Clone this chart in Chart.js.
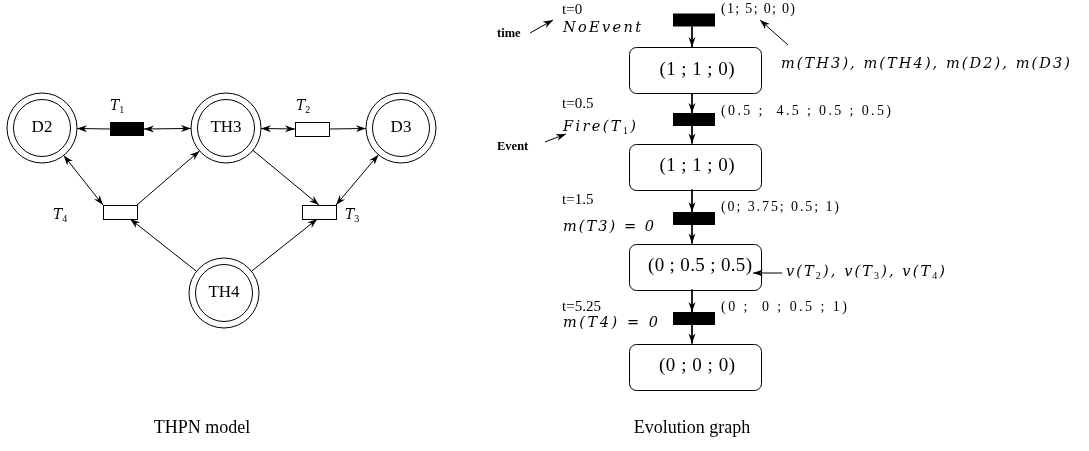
<!DOCTYPE html>
<html>
<head>
<meta charset="utf-8">
<script src="https://cdn.jsdelivr.net/npm/chart.js@4/dist/chart.umd.min.js"></script>
<style>
  html, body { margin: 0; padding: 0; background: #fff; }
  #wrap { width: 1089px; height: 451px; position: relative; }
</style>
</head>
<body>
<div id="wrap"><canvas id="net"></canvas></div>
<script>
// --- THPN model (left) ---
const placeNames = ['D2', 'TH3', 'D3', 'TH4'];
const placeX = [42, 226, 401, 224];
const placeY = [128, 128, 128, 293];

const transNames = ['T_1', 'T_2', 'T_3', 'T_4'];
const transX = [127, 312, 319, 120];
const transY = [129, 129, 212, 212];
const transFilled = [true, false, false, false];

// arcs: transition, place, anchor on the transition box, arrowhead at transition / at place
const arcTrans = ['T_1', 'T_1', 'T_2', 'T_2', 'T_4', 'T_4', 'T_4', 'T_3', 'T_3', 'T_3'];
const arcPlace = ['D2', 'TH3', 'TH3', 'D3', 'D2', 'TH3', 'TH4', 'TH3', 'D3', 'TH4'];
const arcAnchor = [[-1, 0], [1, 0], [-1, 0], [1, 0], [-1, -1], [1, -1], [0.6, 1], [0, -1], [1, -1], [-0.1, 1]];
const arcHeadTrans = [false, true, true, false, true, false, true, true, true, true];
const arcHeadPlace = [true, true, true, true, true, true, false, false, true, false];

// --- Evolution graph (right) ---
const stateText = ['(1 ; 1 ; 0)', '(1 ; 1 ; 0)', '(0 ; 0.5 ; 0.5)', '(0 ; 0 ; 0)'];
const stateY = [70, 166.5, 266.5, 366.5];
const stepY = [20, 119.5, 218.5, 318.5];
const stepTime = ['t=0', 't=0.5', 't=1.5', 't=5.25'];
const stepTimeY = [10, 104, 200, 307];
const stepEvent = ['NoEvent', 'Fire(T_1)', 'm(T3) = 0', 'm(T4) = 0'];
const stepEventY = [28, 127, 227, 323];
const stepMarking = ['(1; 5; 0; 0)', '(0.5 ;  4.5 ; 0.5 ; 0.5)', '(0; 3.75; 0.5; 1)', '(0 ;  0 ; 0.5 ; 1)'];
const stepMarkingY = [9, 111, 207, 307];

// layout
const R_OUT = 35, R_IN = 28.5, T_W = 34, T_H = 14;
const FLOW_X = 692, BAR_X = 694, BAR_W = 42, BAR_H = 13;
const BOX_X = 695, BOX_W = 132, BOX_H = 46;
const TIME_X = 562, MARK_X = 721;
const stateTextX = [697, 697, 700, 697];
const stateTextW = [75, 75, 104, 76];
const stepEventW = [78, 73, 91, 95];
const stepMarkingW = [74, 170, 118, 126];
const FONT = '"Liberation Serif", "Times New Roman", serif';
const MATH = '"DejaVu Serif", serif';

function arcEnds(i) {
  const t = transNames.indexOf(arcTrans[i]);
  const p = placeNames.indexOf(arcPlace[i]);
  const [fx, fy] = arcAnchor[i];
  const ax = transX[t] + fx * T_W / 2, ay = transY[t] + fy * T_H / 2;
  const dx = ax - placeX[p], dy = ay - placeY[p], d = Math.hypot(dx, dy);
  return { ax, ay, bx: placeX[p] + dx / d * R_OUT, by: placeY[p] + dy / d * R_OUT };
}

const lineSet = (pts) => ({
  data: pts, showLine: true, borderColor: '#000', borderWidth: 1,
  pointRadius: 0, clip: false,
});

const arcSets = arcTrans.map((_, i) => {
  const e = arcEnds(i);
  return lineSet([{ x: e.ax, y: e.ay }, { x: e.bx, y: e.by }]);
});

const flowLinks = [];
stepY.forEach((y, i) => {
  flowLinks.push([y + BAR_H / 2, stateY[i] - BOX_H / 2]);
  if (i + 1 < stepY.length) flowLinks.push([stateY[i] + BOX_H / 2, stepY[i + 1] - BAR_H / 2]);
});
const flowSets = flowLinks.map(([a, b]) => lineSet([{ x: FLOW_X, y: a }, { x: FLOW_X, y: b }]));

const placeSet = (r) => ({
  data: placeX.map((x, i) => ({ x, y: placeY[i] })),
  pointStyle: 'circle', pointRadius: r, pointBorderWidth: 1,
  pointBorderColor: '#000', pointBackgroundColor: 'rgba(0,0,0,0)', showLine: false, clip: false,
});

// rich text: "_d" makes a subscript; math=true uses the italic math face
function drawRich(ctx, str, x, y, size, style, align, width, math) {
  const chars = [];
  for (let i = 0; i < str.length; i++) {
    if (str[i] === '_') { chars.push({ ch: str[i + 1], sub: true }); i++; }
    else chars.push({ ch: str[i], sub: false });
  }
  const fam = math ? MATH : FONT;
  const fMain = `${style} ${size}px ${fam}`;
  const fSub = `${Math.round(size * 0.72)}px ${FONT}`;
  chars.forEach((c) => {
    ctx.font = c.sub ? fSub : fMain;
    c.w = ctx.measureText(c.ch).width;
  });
  const natural = chars.reduce((s, c) => s + c.w, 0);
  const gap = width ? (width - natural) / Math.max(1, chars.length - 1) : 0;
  const total = natural + gap * (chars.length - 1);
  let cx = align === 'center' ? x - total / 2 : x;
  ctx.textBaseline = 'middle';
  ctx.textAlign = 'left';
  chars.forEach((c) => {
    ctx.font = c.sub ? fSub : fMain;
    ctx.fillText(c.ch, cx, c.sub ? y + size * 0.3 : y);
    cx += c.w + gap;
  });
}

function arrowHead(ctx, tx, ty, fx, fy) {
  const a = Math.atan2(ty - fy, tx - fx);
  ctx.save();
  ctx.translate(tx, ty);
  ctx.rotate(a);
  ctx.beginPath();
  ctx.moveTo(0, 0);
  ctx.lineTo(-10, 3.5);
  ctx.lineTo(-7, 0);
  ctx.lineTo(-10, -3.5);
  ctx.closePath();
  ctx.fill();
  ctx.restore();
}

function pointer(ctx, X, Y, from, to) {
  ctx.beginPath();
  ctx.moveTo(X(from[0]), Y(from[1]));
  ctx.lineTo(X(to[0]), Y(to[1]));
  ctx.stroke();
  arrowHead(ctx, X(to[0]), Y(to[1]), X(from[0]), Y(from[1]));
}

const diagram = {
  id: 'diagram',
  afterDatasetsDraw(chart) {
    const ctx = chart.ctx;
    const X = (v) => chart.scales.x.getPixelForValue(v);
    const Y = (v) => chart.scales.y.getPixelForValue(v);
    ctx.save();
    ctx.fillStyle = '#000';
    ctx.strokeStyle = '#000';
    ctx.lineWidth = 1;

    // transitions
    transNames.forEach((n, i) => {
      const x = X(transX[i] - T_W / 2), y = Y(transY[i] - T_H / 2);
      if (transFilled[i]) {
        ctx.fillRect(x, y, T_W, T_H);
      } else {
        ctx.fillStyle = '#fff';
        ctx.fillRect(x, y, T_W, T_H);
        ctx.fillStyle = '#000';
        ctx.strokeRect(Math.round(x) + 0.5, Math.round(y) + 0.5, T_W, T_H);
      }
    });

    // arc arrowheads
    arcTrans.forEach((_, i) => {
      const e = arcEnds(i);
      if (arcHeadPlace[i]) arrowHead(ctx, X(e.bx), Y(e.by), X(e.ax), Y(e.ay));
      if (arcHeadTrans[i]) arrowHead(ctx, X(e.ax), Y(e.ay), X(e.bx), Y(e.by));
    });

    // place and transition labels
    placeNames.forEach((n, i) => drawRich(ctx, n, X(placeX[i]), Y(placeY[i]), 17, '', 'center'));
    const tLabel = [[110, 106], [296, 106], [345, 215], [53, 215]];
    transNames.forEach((n, i) => drawRich(ctx, n, X(tLabel[i][0]), Y(tLabel[i][1]), 14, 'italic', 'left', 0, true));

    // evolution graph: steps and states
    stepY.forEach((y, i) => {
      ctx.fillRect(X(BAR_X - BAR_W / 2), Y(y - BAR_H / 2), BAR_W, BAR_H);
      drawRich(ctx, stepTime[i], X(TIME_X), Y(stepTimeY[i]), 15, '', 'left');
      drawRich(ctx, stepEvent[i], X(TIME_X + 1), Y(stepEventY[i]), 14.5, 'italic', 'left', stepEventW[i], true);
      drawRich(ctx, stepMarking[i], X(MARK_X), Y(stepMarkingY[i]), 14, '', 'left', stepMarkingW[i]);
    });
    stateY.forEach((y, i) => {
      ctx.beginPath();
      ctx.roundRect(Math.round(X(BOX_X - BOX_W / 2)) + 0.5, Math.round(Y(y - BOX_H / 2)) + 0.5, BOX_W, BOX_H, 7);
      ctx.stroke();
      drawRich(ctx, stateText[i], X(stateTextX[i]), Y(y), 19, '', 'center', stateTextW[i]);
    });
    flowLinks.forEach(([a, b]) => arrowHead(ctx, X(FLOW_X), Y(b), X(FLOW_X), Y(a)));

    // annotations
    drawRich(ctx, 'time', X(497), Y(34), 12.5, 'bold', 'left');
    pointer(ctx, X, Y, [530, 33], [TIME_X - 9, stepTimeY[0] + 10]);
    drawRich(ctx, 'Event', X(497), Y(147), 12.5, 'bold', 'left');
    pointer(ctx, X, Y, [545, 142], [TIME_X + 4, stepEventY[1] + 7]);

    drawRich(ctx, 'm(TH3), m(TH4), m(D2), m(D3)', X(781), Y(64), 14.5, 'italic', 'left', 289, true);
    pointer(ctx, X, Y, [788, 45], [MARK_X + 39, stepMarkingY[0] + 11]);

    drawRich(ctx, 'v(T_2), v(T_3), v(T_4)', X(786), Y(stateY[2] + 6), 14.5, 'italic', 'left', 159, true);
    pointer(ctx, X, Y, [782, stateY[2] + 6.5], [BOX_X + BOX_W / 2 - 8, stateY[2] + 6.5]);

    // captions
    drawRich(ctx, 'THPN model', X(202), Y(428), 18, '', 'center');
    drawRich(ctx, 'Evolution graph', X(692), Y(428), 18, '', 'center');
    ctx.restore();
  },
};

new Chart(document.getElementById('net').getContext('2d'), {
  type: 'scatter',
  data: { datasets: [...arcSets, ...flowSets, placeSet(R_OUT), placeSet(R_IN)] },
  options: {
    responsive: true,
    maintainAspectRatio: false,
    animation: false,
    layout: { padding: 0, autoPadding: false },
    plugins: { legend: { display: false }, tooltip: { enabled: false } },
    scales: {
      x: { type: 'linear', min: 0, max: 1089, display: false },
      y: { type: 'linear', min: 0, max: 451, reverse: true, display: false },
    },
  },
  plugins: [diagram],
});
</script>
</body>
</html>
